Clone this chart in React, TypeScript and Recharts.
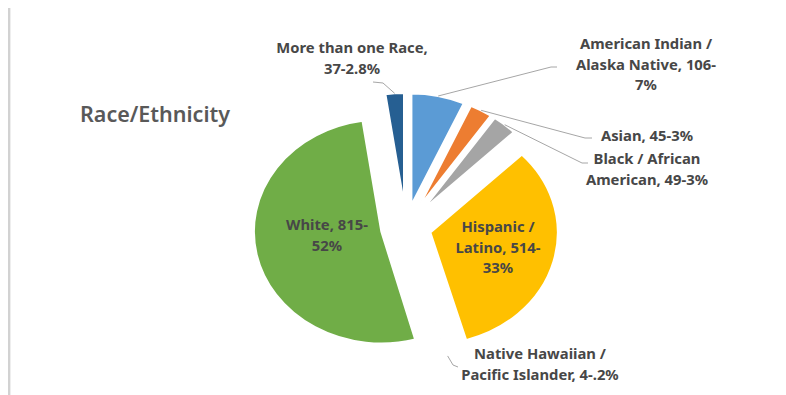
import React from 'react';
import { PieChart, Pie, Cell, Sector } from 'recharts';

const categories = [
  'American Indian / Alaska Native',
  'Asian',
  'Black / African American',
  'Hispanic / Latino',
  'Native Hawaiian / Pacific Islander',
  'White',
  'More than one Race',
];
const counts = [106, 45, 49, 514, 4, 815, 37];
const shares = ['7%', '3%', '3%', '33%', '.2%', '52%', '2.8%'];
const colors = ['#5b9bd5', '#ed7d31', '#a5a5a5', '#ffc000', '#4472c4', '#70ad47', '#265f92'];

// label placement (centre x, first line y, wrap width in chars, leader elbow/end)
const labelLayout = [
  { x: 646, y: 43, wrap: 19, elbow: [551, 67], end: [557, 67] },
  { x: 647, y: 135, wrap: 20, elbow: [585, 138], end: [592, 138] },
  { x: 647, y: 158, wrap: 16, elbow: [582, 163], end: [588, 163] },
  { x: 498, y: 226, wrap: 12, elbow: null, end: null },
  { x: 540, y: 353, wrap: 23, elbow: [453, 365], end: [458, 367] },
  { x: 327, y: 224, wrap: 11, elbow: null, end: null },
  { x: 352, y: 47, wrap: 19, elbow: [383, 83], end: [373, 82] },
];

const W = 786;
const H = 395;
const CX = 406;
const CY = 227;
const R = 112;
const EXPLODE = 22;
const STRETCH = 1.14;
const LINE_H = 20.5;

const data = categories.map((name, i) => ({ name, value: counts[i], share: shares[i] }));

const wrapLabel = (text: string, max: number): string[] => {
  const tokens = text.split(/(?<=[ -])/);
  const lines: string[] = [];
  let cur = '';
  tokens.forEach((t) => {
    if (cur && (cur + t).trim().length > max) {
      lines.push(cur.trim());
      cur = t;
    } else {
      cur += t;
    }
  });
  if (cur) lines.push(cur.trim());
  return lines;
};

const ExplodedSlice = (props: any) => {
  const { cx, cy, midAngle, ...rest } = props;
  const rad = (-midAngle * Math.PI) / 180;
  const dx = EXPLODE * Math.cos(rad);
  const dy = EXPLODE * Math.sin(rad);
  return (
    <g transform={`translate(${cx} ${cy}) scale(${STRETCH} 1) translate(${dx} ${dy})`}>
      <Sector {...rest} cx={0} cy={0} />
    </g>
  );
};

const renderLabel = (props: any) => {
  const { cx, cy, midAngle, outerRadius, index } = props;
  const item = data[index];
  const lay = labelLayout[index];
  const lines = wrapLabel(`${item.name}, ${item.value}-${item.share}`, lay.wrap);
  const rad = (-midAngle * Math.PI) / 180;
  const sx = cx + STRETCH * (EXPLODE + outerRadius) * Math.cos(rad);
  const sy = cy + (EXPLODE + outerRadius) * Math.sin(rad);
  return (
    <g key={`lbl-${index}`}>
      {lay.elbow && lay.end && (
        <polyline
          points={`${sx},${sy} ${lay.elbow[0]},${lay.elbow[1]} ${lay.end[0]},${lay.end[1]}`}
          fill="none"
          stroke="#a6a6a6"
          strokeWidth={1}
        />
      )}
      {lines.map((ln, j) => (
        <text
          key={j}
          x={lay.x}
          y={lay.y + j * LINE_H}
          textAnchor="middle"
          dominantBaseline="central"
          fontFamily="'Noto Sans', sans-serif"
          fontWeight={700}
          fontSize={14.8}
          fill="#474747"
        >
          {ln}
        </text>
      ))}
    </g>
  );
};

export default function App() {
  return (
    <div style={{ margin: '-8px 0 0 -8px', width: W, height: H, position: 'relative', background: '#fff' }}>
      <PieChart width={W} height={H} margin={{ top: 0, right: 0, bottom: 0, left: 0 }}>
        <rect x={0} y={4} width={W} height={1} fill="#ececec" />
        <rect x={8} y={4} width={2} height={H - 4} fill="#d2d2d2" />
        <rect x={10} y={5} width={1} height={H - 5} fill="#eeeeee" />
        <text
          x={80}
          y={113}
          dominantBaseline="central"
          fontFamily="'Noto Sans', sans-serif"
          fontWeight={600}
          fontSize={21.5}
          fill="#595959"
        >
          Race/Ethnicity
        </text>
        <Pie
          data={data}
          dataKey="value"
          nameKey="name"
          cx={CX}
          cy={CY}
          outerRadius={R}
          startAngle={90}
          endAngle={-270}
          stroke="#ffffff"
          strokeWidth={2}
          shape={ExplodedSlice}
          label={renderLabel}
          labelLine={false}
          isAnimationActive={false}
        >
          {data.map((d, i) => (
            <Cell key={d.name} fill={colors[i]} />
          ))}
        </Pie>
      </PieChart>
    </div>
  );
}
